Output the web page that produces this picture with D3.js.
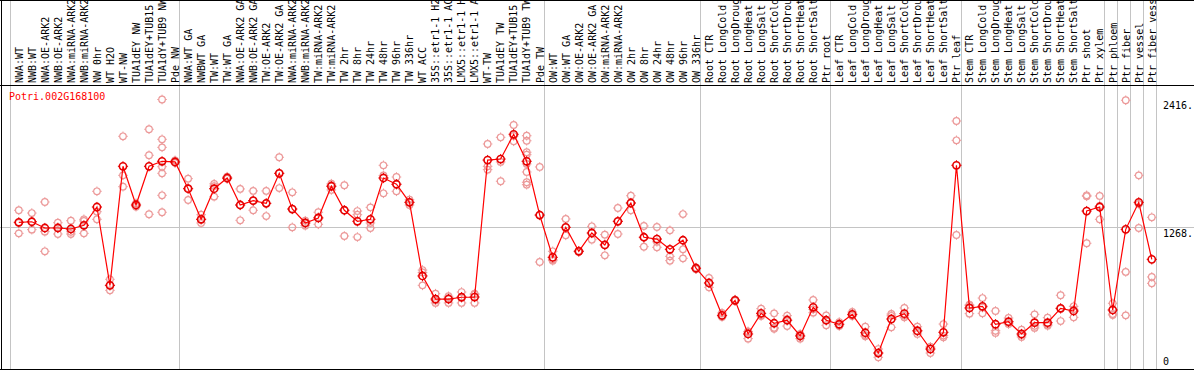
<!DOCTYPE html>
<html>
<head>
<meta charset="utf-8">
<script src="https://cdn.jsdelivr.net/npm/d3@7"></script>
<style>
  body { margin: 0; background: #fff; }
  svg text { font-family: "DejaVu Sans Mono", monospace; font-size: 10px; }
</style>
</head>
<body>
<div id="chart"></div>
<script>
var gene = "Potri.002G168100";

var samples = ["NWA:WT", "NWB:WT", "NWA:OE-ARK2", "NWB:OE-ARK2", "NWA:miRNA-ARK2", "NWB:miRNA-ARK2",
  "NW 0hr", "WT H2O", "WT-NW", "TUA1dEY NW", "TUA1dEY+TUB15", "TUA1dY+TUB9 NW", "Pde NW",
  "NWA:WT GA", "NWBWT GA", "TW:WT", "TW:WT GA", "NWA:OE-ARK2 GA", "NWB:OE-ARK2 GA", "TW:OE-ARK2",
  "TW:OE-ARK2 GA", "NWA:miRNA-ARK2", "NWB:miRNA-ARK2", "TW:miRNA-ARK2", "TW:miRNA-ARK2",
  "TW 2hr", "TW 8hr", "TW 24hr", "TW 48hr", "TW 96hr", "TW 336hr", "WT ACC",
  "35S::etr1-1 H2O", "35S::etr1-1 ACC", "LMX5::etr1-1 H2O", "LMX5::etr1-1 ACC",
  "WT-TW", "TUA1dEY TW", "TUA1dEY+TUB15", "TUA1dY+TUB9 TW", "Pde TW",
  "OW:WT", "OW:WT GA", "OW:OE-ARK2", "OW:OE-ARK2 GA", "OW:miRNA-ARK2", "OW:miRNA-ARK2",
  "OW 2hr", "OW 8hr", "OW 24hr", "OW 48hr", "OW 96hr", "OW 336hr",
  "Root CTR", "Root LongCold", "Root LongDrought", "Root LongHeat", "Root LongSalt",
  "Root ShortCold", "Root ShortDrought", "Root ShortHeat", "Root ShortSalt", "Ptr root",
  "Leaf CTR", "Leaf LongCold", "Leaf LongDrought", "Leaf LongHeat", "Leaf LongSalt",
  "Leaf ShortCold", "Leaf ShortDrought", "Leaf ShortHeat", "Leaf ShortSalt", "Ptr leaf",
  "Stem CTR", "Stem LongCold", "Stem LongDrought", "Stem LongHeat", "Stem LongSalt",
  "Stem ShortCold", "Stem ShortDrought", "Stem ShortHeat", "Stem ShortSalt", "Ptr shoot",
  "Ptr xylem", "Ptr phloem", "Ptr fiber", "Ptr vessel", "Ptr fiber vessel"];

var means = [1315, 1320, 1264, 1264, 1255, 1288, 1452, 750, 1817, 1470, 1817, 1862, 1856,
  1616, 1342, 1616, 1712, 1470, 1509, 1485, 1754, 1434, 1309, 1354, 1638, 1423, 1324, 1342,
  1712, 1656, 1494, 834, 627, 627, 643, 645, 1873, 1882, 2104, 1862, 1380,
  1001, 1270, 1055, 1219, 1112, 1324, 1488, 1181, 1165, 1073, 1154, 903,
  771, 481, 616, 314, 499, 410, 437, 296, 553, 437,
  401, 490, 325, 143, 448, 496, 343, 179, 329, 1826,
  547, 562, 401, 424, 314, 415, 415, 544, 520, 1416,
  1452, 529, 1252, 1494, 983];

var replicates = [
  [1423, 1216, 1310], [1398, 1249, 1320], [1497, 1231, 1055], [1311, 1210, 1270],
  [1329, 1230, 1210], [1342, 1327, 1216], [1593, 1410, 1342], [804, 705, 750],
  [2086, 1736, 1634], [1485, 1455, 1470], [2149, 1916, 1387],
  [2416, 2059, 1987, 1813, 1754, 1557, 1405], [1870, 1850, 1848],
  [1706, 1515, 1620], [1383, 1309, 1340], [1660, 1640, 1545], [1724, 1705, 1708],
  [1614, 1333, 1470], [1596, 1423, 1509], [1596, 1371, 1485], [1898, 1622, 1754],
  [1584, 1270, 1434], [1329, 1285, 1309], [1405, 1297, 1360], [1661, 1605, 1648],
  [1647, 1192, 1423], [1416, 1383, 1183], [1449, 1309, 1264], [1826, 1575, 1735],
  [1721, 1593, 1656], [1518, 1470, 1494], [887, 750, 865],
  [675, 592, 614], [652, 592, 637], [690, 592, 647], [675, 592, 668],
  [2017, 1817, 1787], [2077, 1856, 1683], [2187, 2041, 2089],
  [2091, 2046, 1943, 1921, 1838, 1766, 1674, 1652], [1811, 959, 1380],
  [1055, 971, 980], [1345, 1198, 1270], [1055, 1050, 1060], [1279, 1159, 1219],
  [1204, 1019, 1112], [1443, 1210, 1324], [1553, 1423, 1488], [1282, 1096, 1181],
  [1273, 1140, 1091], [1243, 1010, 971], [1389, 1073, 992], [903, 895, 910],
  [816, 732, 771], [502, 475, 467], [616, 610, 622], [272, 332, 337], [541, 475, 482],
  [499, 361, 370], [478, 385, 447], [272, 314, 302], [619, 505, 535], [481, 392, 438],
  [421, 385, 397], [511, 475, 484], [379, 293, 303], [179, 105, 145], [493, 374, 477],
  [547, 463, 478], [379, 314, 336], [143, 197, 197], [403, 284, 300], [2223, 2050, 1201],
  [576, 496, 569], [636, 499, 551], [520, 343, 323], [457, 403, 412], [352, 287, 303],
  [490, 368, 387], [460, 388, 397], [661, 430, 541], [562, 463, 535],
  [1557, 1548, 1127], [1551, 1342, 1463], [589, 493, 484], [2409, 870, 481],
  [1736, 1264, 1480], [1360, 825, 768]];

// index of the last sample of each block (grey separators)
var groupEnds = [12, 40, 52, 62, 72, 83, 84, 85, 86, 87];

var maxValue = 2416;
var axisLabels = ["2416.", "1268.", "0"];
var axisValues = [2416, 1268, 0];

var width = 1194, height = 370;
var headerBottom = 86, plotBottom = 369;

var svg = d3.select("#chart").append("svg")
    .attr("width", width)
    .attr("height", height);

var xScale = d3.scaleBand()
    .domain(d3.range(samples.length))
    .range([10, 1156]);
var cx = function(i) { return xScale(i) + 8.8; };

var yScale = d3.scaleLinear()
    .domain([0, maxValue * 1.05])
    .range([plotBottom, headerBottom]);

// grey guide lines
svg.append("line")
    .attr("x1", 0).attr("x2", width)
    .attr("y1", yScale(maxValue * 1.05 / 2)).attr("y2", yScale(maxValue * 1.05 / 2))
    .attr("stroke", "#c4c4c4").attr("shape-rendering", "crispEdges");

var seps = [xScale(0)].concat(groupEnds.map(function(i) { return xScale(i) + xScale.bandwidth(); }));
svg.selectAll(".sep")
    .data(seps)
    .enter().append("line")
    .attr("class", "sep")
    .attr("x1", function(d) { return Math.round(d) + 0.5; })
    .attr("x2", function(d) { return Math.round(d) + 0.5; })
    .attr("y1", 0).attr("y2", plotBottom)
    .attr("stroke", "#c4c4c4");

// frame
svg.append("line").attr("x1", 0).attr("x2", width).attr("y1", 0.5).attr("y2", 0.5).attr("stroke", "#000");
svg.append("line").attr("x1", 0).attr("x2", width).attr("y1", headerBottom - 0.5).attr("y2", headerBottom - 0.5).attr("stroke", "#000");
svg.append("line").attr("x1", 0).attr("x2", width).attr("y1", plotBottom + 0.5).attr("y2", plotBottom + 0.5).attr("stroke", "#000");
svg.append("line").attr("x1", 1.5).attr("x2", 1.5).attr("y1", 0).attr("y2", plotBottom).attr("stroke", "#000");

// sample labels
svg.selectAll(".lab")
    .data(samples)
    .enter().append("text")
    .attr("class", "lab")
    .attr("transform", function(d, i) { return "translate(" + (cx(i) + 3.8) + "," + (headerBottom - 3) + ") rotate(-90)"; })
    .attr("fill", "#000")
    .text(function(d) { return d; });

// gene title
svg.append("text")
    .attr("x", 9).attr("y", 100)
    .attr("fill", "#ff0000")
    .text(gene);

// right side values
svg.selectAll(".ylab")
    .data(axisValues)
    .enter().append("text")
    .attr("class", "ylab")
    .attr("x", 1163)
    .attr("y", function(d) { return Math.min(yScale(d) + 9.5, plotBottom - 4); })
    .attr("fill", "#000")
    .text(function(d, i) { return axisLabels[i]; });

// a ring with four small ticks, like the original marker
function marker(g, r, color, sw) {
    g.append("circle").attr("r", r).attr("fill", "none").attr("stroke", color).attr("stroke-width", sw);
    g.append("path")
        .attr("d", "M0," + (-r - 1.5) + "V" + (-r) + "M0," + r + "V" + (r + 1.5) +
                   "M" + (-r - 1.5) + ",0H" + (-r) + "M" + r + ",0H" + (r + 1.5))
        .attr("stroke", color).attr("stroke-width", 1);
}

var reps = [];
replicates.forEach(function(list, i) {
    list.forEach(function(v) { reps.push({i: i, v: v}); });
});

svg.selectAll(".rep")
    .data(reps)
    .enter().append("g")
    .attr("class", "rep")
    .attr("transform", function(d) { return "translate(" + cx(d.i) + "," + yScale(d.v) + ")"; })
    .each(function() { marker(d3.select(this), 3.3, "#ec9a9a", 1.2); });

var line = d3.line()
    .x(function(d, i) { return cx(i); })
    .y(function(d) { return yScale(d); });

svg.append("path")
    .datum(means)
    .attr("d", line)
    .attr("fill", "none")
    .attr("stroke", "#ff0000")
    .attr("stroke-width", 1.2);

svg.selectAll(".mean")
    .data(means)
    .enter().append("g")
    .attr("class", "mean")
    .attr("transform", function(d, i) { return "translate(" + cx(i) + "," + yScale(d) + ")"; })
    .each(function() { marker(d3.select(this), 3.6, "#e60000", 1.6); });
</script>
</body>
</html>
